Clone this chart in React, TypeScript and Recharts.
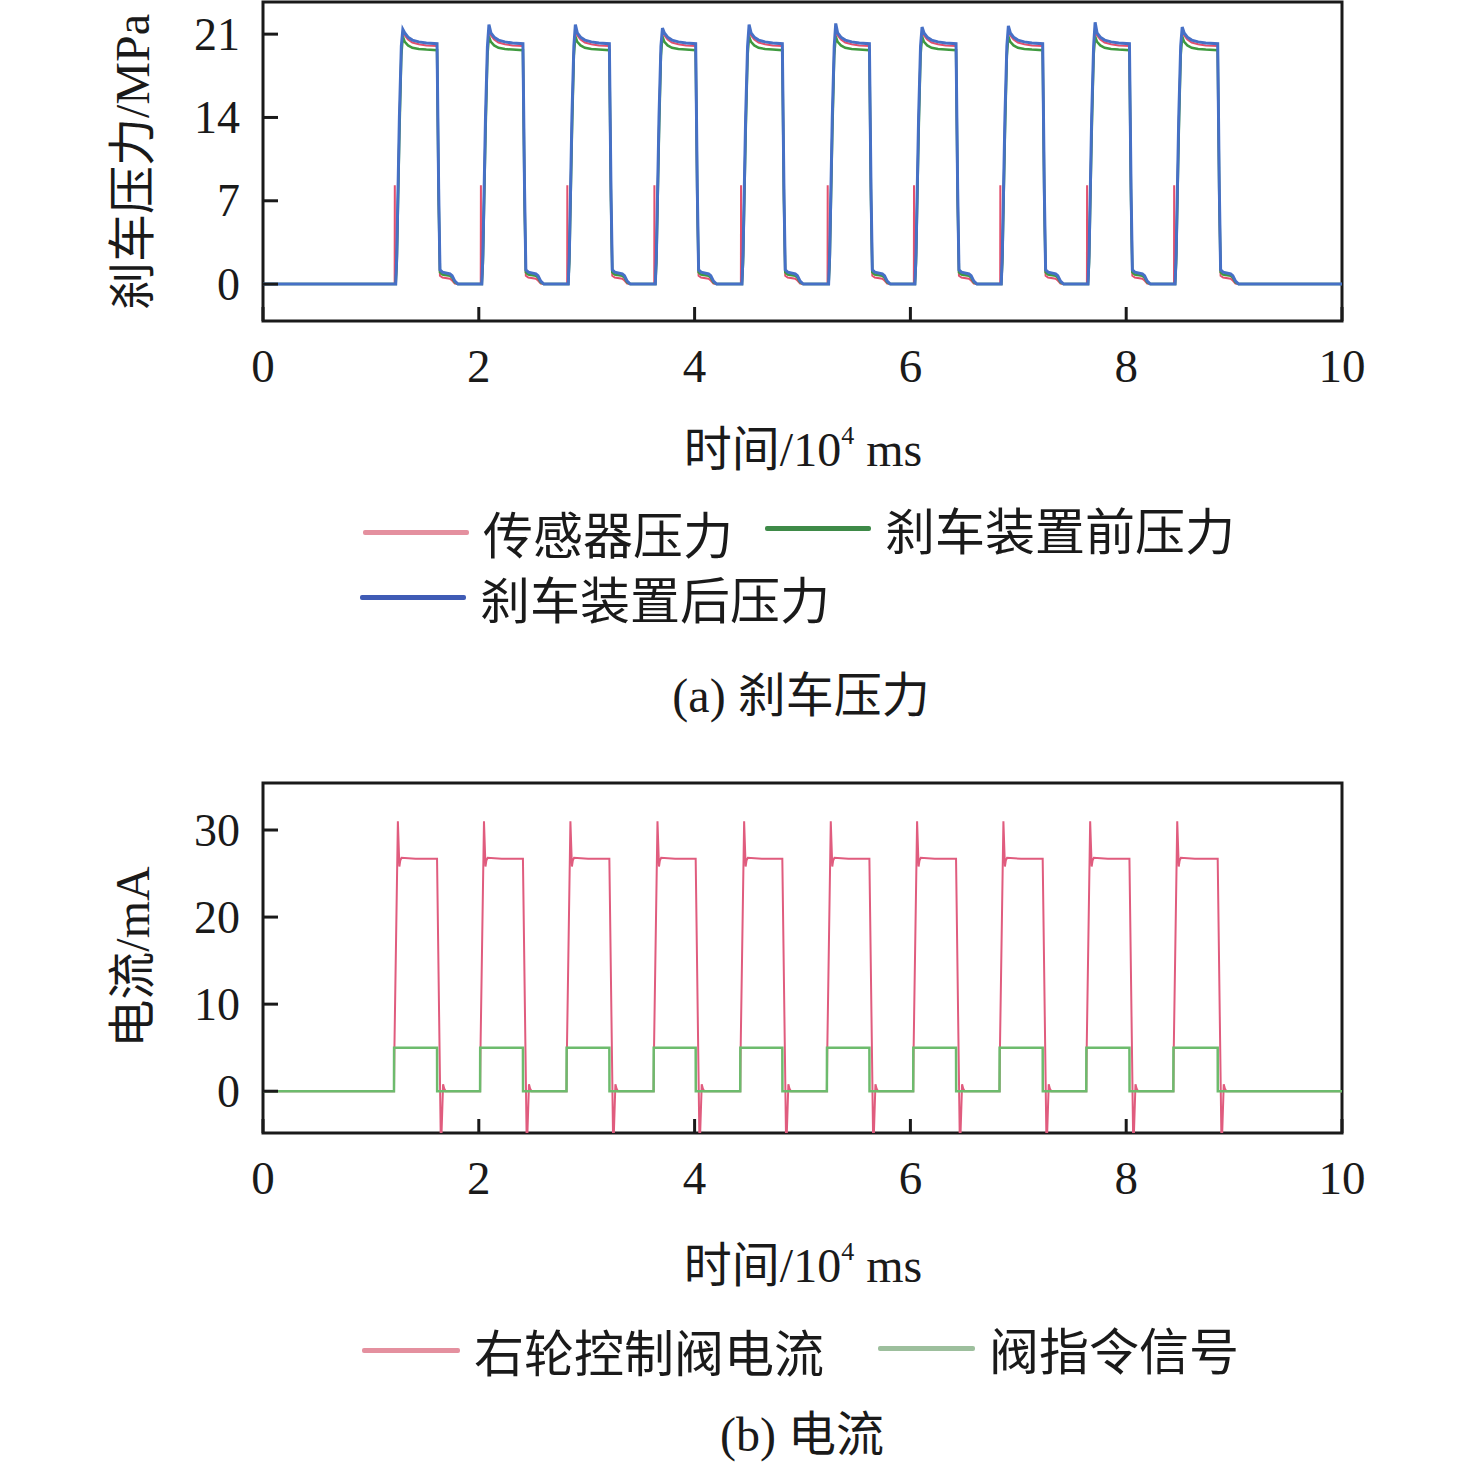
import React from 'react';
import { LineChart, Line, XAxis, YAxis, ReferenceArea } from 'recharts';

// time axis in 10^4 ms
const timeTicks = [0, 2, 4, 6, 8, 10];
const pressureTicks = [0, 7, 14, 21];
const currentTicks = [0, 10, 20, 30];

// rising edge of each valve command pulse, and how long it stays on
const pulseStarts = [1.214, 2.012, 2.813, 3.62, 4.423, 5.226, 6.026, 6.826, 7.63, 8.437];
const pulseWidths = [0.399, 0.397, 0.397, 0.39, 0.39, 0.394, 0.397, 0.4, 0.4, 0.411];

// peak of the pressure after the brake device, per pulse (MPa)
const afterPeaks = [21.4, 21.8, 21.8, 21.5, 21.8, 21.9, 21.6, 21.7, 22.0, 21.6];

// pressure shape: offsets from the rising edge / from the falling edge
const riseDt = [0.016, 0.026, 0.05, 0.068, 0.082, 0.1, 0.13, 0.17, 0.23, 0.3];
const fallDt = [0, 0.015, 0.027, 0.05, 0.12, 0.14, 0.165, 0.194];

const afterRise = [0, 2.5, 14, 20, 21.6, 21.1, 20.75, 20.5, 20.35, 20.25];
const afterFall = [20.2, 8, 1.2, 1.0, 0.85, 0.7, 0.25, 0];
const beforeRise = [0, 1.8, 12.5, 19.2, 20.8, 20.35, 20.05, 19.85, 19.75, 19.7];
const beforeFall = [19.65, 7, 1.0, 0.8, 0.7, 0.55, 0.15, 0];
const sensorRiseDt = [0.006, 0.0075, 0.009, 0.016, 0.026, 0.05, 0.068, 0.082, 0.1, 0.13, 0.17, 0.23, 0.3];
const sensorRise = [0, 8.3, 0, 0, 2.2, 13.5, 19.6, 21.2, 20.9, 20.55, 20.3, 20.15, 20.05];
const sensorFall = [20.0, 7, 0.7, 0.55, 0.45, 0.3, 0.05, 0];

// valve current (mA)
const currentRiseDt = [0, 0.004, 0.036, 0.05, 0.058, 0.07, 0.2];
const currentRise = [0, 5, 31, 25.8, 26.5, 26.8, 26.7];
const currentFallDt = [0, 0.036, 0.056, 0.066, 0.08];
const currentFall = [26.7, -7, 0.8, 0.3, 0];
const commandRiseDt = [0, 0.001];
const commandRise = [0, 5];
const commandFallDt = [0, 0.001];
const commandFall = [5, 0];

type Pt = { t: number; v: number };

function pulseTrain(rDt: number[], rV: number[], fDt: number[], fV: number[], peakAt = -1, peaks: number[] = []): Pt[] {
  const pts: Pt[] = [{ t: 0, v: 0 }];
  pulseStarts.forEach((t0, i) => {
    const tf = t0 + pulseWidths[i];
    rDt.forEach((d, k) => pts.push({ t: t0 + d, v: k === peakAt ? peaks[i] : rV[k] }));
    fDt.forEach((d, k) => pts.push({ t: tf + d, v: fV[k] }));
  });
  pts.push({ t: 10, v: 0 });
  return pts;
}

const sensorData = pulseTrain(sensorRiseDt, sensorRise, fallDt, sensorFall);
const beforeData = pulseTrain(riseDt, beforeRise, fallDt, beforeFall);
const afterData = pulseTrain(riseDt, afterRise, fallDt, afterFall, 4, afterPeaks);
const currentData = pulseTrain(currentRiseDt, currentRise, currentFallDt, currentFall);
const commandData = pulseTrain(commandRiseDt, commandRise, commandFallDt, commandFall);

const INK = '#1a1a1a';
const NUM_FONT = "'Liberation Serif', 'Noto Sans CJK SC', serif";
const CJK_FONT = "'Noto Sans CJK SC', 'Liberation Serif', sans-serif";

const XTick = (props: any) => {
  const { x, y, payload } = props;
  return (
    <g>
      <line x1={x} y1={y} x2={x} y2={y - 14} stroke={INK} strokeWidth={3} />
      <text x={x} y={y + 45} textAnchor="middle" dominantBaseline="central" fontFamily={NUM_FONT} fontSize={47} fill={INK}>
        {payload.value}
      </text>
    </g>
  );
};

const YTick = (props: any) => {
  const { x, y, payload } = props;
  return (
    <g>
      <line x1={x} y1={y} x2={x + 15} y2={y} stroke={INK} strokeWidth={3} />
      <text x={x - 23} y={y} textAnchor="end" dominantBaseline="central" fontFamily={NUM_FONT} fontSize={46} fill={INK}>
        {payload.value}
      </text>
    </g>
  );
};

const abs = (left: number, top: number, extra: React.CSSProperties = {}): React.CSSProperties => ({
  position: 'absolute',
  left,
  top,
  whiteSpace: 'nowrap',
  color: INK,
  fontFamily: NUM_FONT,
  ...extra,
});

function TimeLabel({ top }: { top: number }) {
  return (
    <div style={abs(803, top, { transform: 'translate(-50%, -50%)', fontSize: 48, lineHeight: 1 })}>
      <span style={{ fontFamily: CJK_FONT }}>时间</span>/10
      <span style={{ fontSize: 26, verticalAlign: 'top', position: 'relative', top: 2 }}>4</span> ms
    </div>
  );
}

function LegendItem({ left, top, color, label, lineW = 106 }: { left: number; top: number; color: string; label: string; lineW?: number }) {
  return (
    <div style={abs(left, top, { display: 'flex', alignItems: 'center', transform: 'translateY(-50%)' })}>
      <div style={{ width: lineW, height: 5, background: color, borderRadius: 2 }} />
      <span style={{ fontFamily: CJK_FONT, fontSize: 50, lineHeight: 1, marginLeft: 14 }}>{label}</span>
    </div>
  );
}

export default function App() {
  return (
    <div style={{ position: 'absolute', left: 0, top: 0, width: 1476, height: 1465, background: '#fff', overflow: 'hidden' }}>
      {/* (a) brake pressure */}
      <div style={{ position: 'absolute', left: 0, top: 0 }}>
        <LineChart width={1476} height={420} margin={{ top: 2, right: 134, bottom: 19, left: 163 }}>
          <XAxis
            type="number"
            dataKey="t"
            domain={[0, 10]}
            ticks={timeTicks}
            allowDataOverflow
            axisLine={false}
            tickLine={false}
            tickSize={0}
            tickMargin={0}
            height={80}
            tick={XTick}
          />
          <YAxis
            type="number"
            dataKey="v"
            domain={[-3.1, 23.7]}
            ticks={pressureTicks}
            allowDataOverflow
            axisLine={false}
            tickLine={false}
            tickSize={0}
            tickMargin={0}
            width={100}
            tick={YTick}
          />
          <Line data={sensorData} dataKey="v" type="linear" stroke="#e2506e" strokeWidth={2} dot={false} isAnimationActive={false} />
          <Line data={beforeData} dataKey="v" type="linear" stroke="#3f9a3f" strokeWidth={2.5} dot={false} isAnimationActive={false} />
          <Line data={afterData} dataKey="v" type="linear" stroke="#4670c6" strokeWidth={3} dot={false} isAnimationActive={false} />
          <ReferenceArea x1={0} x2={10} y1={-3.1} y2={23.7} fill="none" stroke={INK} strokeWidth={3} />
        </LineChart>
      </div>

      <div style={abs(130, 162, { transform: 'translate(-50%, -50%) rotate(-90deg)', fontSize: 48, lineHeight: 1 })}>
        <span style={{ fontFamily: CJK_FONT }}>刹车压力</span>/MPa
      </div>
      <TimeLabel top={447} />

      <LegendItem left={363} top={532} color="#e4909f" label="传感器压力" />
      <LegendItem left={765} top={528} color="#3e8a48" label="刹车装置前压力" />
      <LegendItem left={360} top={597} color="#3f5bb5" label="刹车装置后压力" />

      <div style={abs(801, 693, { transform: 'translate(-50%, -50%)', fontSize: 48, lineHeight: 1 })}>
        (a) <span style={{ fontFamily: CJK_FONT }}>刹车压力</span>
      </div>

      {/* (b) current */}
      <div style={{ position: 'absolute', left: 0, top: 760 }}>
        <LineChart width={1476} height={470} margin={{ top: 23, right: 134, bottom: 17, left: 163 }}>
          <XAxis
            type="number"
            dataKey="t"
            domain={[0, 10]}
            ticks={timeTicks}
            allowDataOverflow
            axisLine={false}
            tickLine={false}
            tickSize={0}
            tickMargin={0}
            height={80}
            tick={XTick}
          />
          <YAxis
            type="number"
            dataKey="v"
            domain={[-4.8, 35.4]}
            ticks={currentTicks}
            allowDataOverflow
            axisLine={false}
            tickLine={false}
            tickSize={0}
            tickMargin={0}
            width={100}
            tick={YTick}
          />
          <Line data={currentData} dataKey="v" type="linear" stroke="#e05c7e" strokeWidth={2} dot={false} isAnimationActive={false} />
          <Line data={commandData} dataKey="v" type="linear" stroke="#6dbb6d" strokeWidth={2.5} dot={false} isAnimationActive={false} />
          <ReferenceArea x1={0} x2={10} y1={-4.8} y2={35.4} fill="none" stroke={INK} strokeWidth={3} />
        </LineChart>
      </div>

      <div style={abs(130, 957, { transform: 'translate(-50%, -50%) rotate(-90deg)', fontSize: 48, lineHeight: 1 })}>
        <span style={{ fontFamily: CJK_FONT }}>电流</span>/mA
      </div>
      <TimeLabel top={1263} />

      <LegendItem left={362} top={1350} color="#e4909f" label="右轮控制阀电流" lineW={98} />
      <LegendItem left={878} top={1348} color="#9dbf9d" label="阀指令信号" lineW={97} />

      <div style={abs(802, 1432, { transform: 'translate(-50%, -50%)', fontSize: 48, lineHeight: 1 })}>
        (b) <span style={{ fontFamily: CJK_FONT }}>电流</span>
      </div>
    </div>
  );
}
